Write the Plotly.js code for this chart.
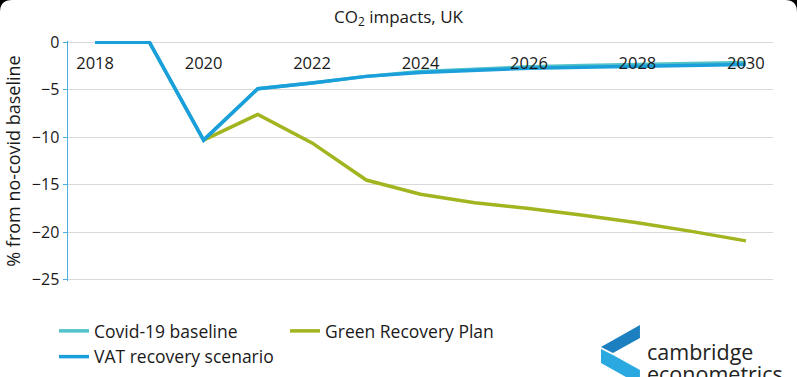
<!DOCTYPE html>
<html>
<head>
<meta charset="utf-8">
<script src="https://cdn.plot.ly/plotly-3.0.1.min.js"></script>
<style>html,body{margin:0;padding:0;background:#fff;}#chart{width:797px;height:377px;}</style>
</head>
<body>
<div id="chart"></div>
<script>
const years = [2018, 2019, 2020, 2021, 2022, 2023, 2024, 2025, 2026, 2027, 2028, 2029, 2030];
const covidBaseline = [0, 0, -10.3, -4.9, -4.3, -3.6, -3.1, -2.85, -2.6, -2.45, -2.35, -2.25, -2.15];
const greenRecovery = [null, null, -10.3, -7.6, -10.6, -14.5, -16.0, -16.9, -17.5, -18.2, -19.0, -19.9, -20.9];
const vatRecovery = [0, 0, -10.3, -4.9, -4.3, -3.6, -3.2, -2.95, -2.75, -2.65, -2.55, -2.45, -2.35];
const seriesNames = ["Covid-19 baseline", "Green Recovery Plan", "VAT recovery scenario"];
const xTicks = [2018, 2020, 2022, 2024, 2026, 2028, 2030];
const yTicks = [0, -5, -10, -15, -20, -25];

const FONT = "'Open Sans', sans-serif";
const W = 797, H = 377, L = 68, R = 24, T = 41, B = 96;
const pw = W - L - R, ph = H - T - B;
function px(x){ return (x - L) / pw; }
function py(y){ return (H - B - y) / ph; }
function path(pts){ return 'M' + pts.map(p => px(p[0]).toFixed(4) + ',' + py(p[1]).toFixed(4)).join(' L') + ' Z'; }

const traces = [
  {x: years, y: covidBaseline, name: seriesNames[0], mode: 'lines', line: {color: '#52C3C8', width: 3.5}, legend: 'legend'},
  {x: years, y: greenRecovery, name: seriesNames[1], mode: 'lines', line: {color: '#A2B41F', width: 3.5}, legend: 'legend2'},
  {x: years, y: vatRecovery, name: seriesNames[2], mode: 'lines', line: {color: '#1A9FDB', width: 3.5}, legend: 'legend'}
];

const shapes = [
  {type: 'path', xref: 'paper', yref: 'paper', layer: 'above', line: {width: 0}, fillcolor: '#1B7FC0',
   path: path([[640,325],[601,347],[613,353],[640,338]])},
  {type: 'path', xref: 'paper', yref: 'paper', layer: 'above', line: {width: 0}, fillcolor: '#2AA9E1',
   path: path([[601,349],[613,355],[640,370],[640,377],[626,377],[601,363]])},
  {type: 'path', xref: 'paper', yref: 'paper', layer: 'above', line: {width: 0}, fillcolor: '#000',
   path: 'M' + px(0) + ',' + py(0) + ' L' + px(12) + ',' + py(0) + ' Q' + px(0) + ',' + py(0) + ' ' + px(0) + ',' + py(12) + ' Z'},
  {type: 'path', xref: 'paper', yref: 'paper', layer: 'above', line: {width: 0}, fillcolor: '#000',
   path: 'M' + px(797) + ',' + py(0) + ' L' + px(785) + ',' + py(0) + ' Q' + px(797) + ',' + py(0) + ' ' + px(797) + ',' + py(12) + ' Z'}
];

const layout = {
  width: W, height: H,
  margin: {l: L, r: R, t: T, b: B, autoexpand: false},
  paper_bgcolor: '#fff', plot_bgcolor: '#fff',
  font: {family: FONT, color: '#1a1a1a', size: 15},
  title: {text: 'CO<sub>2</sub> impacts, UK', font: {family: FONT, size: 17, color: '#1a1a1a'}, x: 0.5, xanchor: 'center', y: 0.955, yanchor: 'middle', yref: 'container'},
  xaxis: {type: 'linear', range: [2017.5, 2030.5], tickvals: xTicks, ticktext: xTicks.map(String),
          anchor: 'free', position: 1, side: 'bottom', ticklabelstandoff: 10,
          showgrid: false, zeroline: false, showline: false,
          ticks: '', tickfont: {family: FONT, size: 16.5, color: '#1a1a1a'}, fixedrange: true},
  yaxis: {range: [-25.12, 0.12], tickvals: yTicks, showgrid: true, gridcolor: '#d9d9d9', gridwidth: 1,
          zeroline: false, showline: true, linecolor: '#4AAEE0', linewidth: 1.5, ticks: 'outside', ticklen: 4, tickcolor: '#4AAEE0',
          tickfont: {family: FONT, size: 16, color: '#1a1a1a'},
          title: {text: '% from no-covid baseline', font: {family: FONT, size: 18, color: '#1a1a1a'}, standoff: 6}},
  legend: {orientation: 'v', x: px(54), y: py(313), xanchor: 'left', yanchor: 'top', xref: 'paper', yref: 'paper',
           font: {family: FONT, size: 17.5, color: '#1a1a1a'}, itemwidth: 30, tracegroupgap: 0, bgcolor: 'rgba(0,0,0,0)'},
  legend2: {orientation: 'v', x: px(285), y: py(313), xanchor: 'left', yanchor: 'top', xref: 'paper', yref: 'paper',
           font: {family: FONT, size: 17.5, color: '#1a1a1a'}, itemwidth: 30, bgcolor: 'rgba(0,0,0,0)'},
  shapes: shapes,
  annotations: [
    {text: 'cambridge', xref: 'paper', yref: 'paper', x: px(645), y: py(351), xanchor: 'left', yanchor: 'middle', showarrow: false,
     font: {family: FONT, size: 21.5, color: '#222'}},
    {text: 'econometrics', xref: 'paper', yref: 'paper', x: px(645), y: py(373), xanchor: 'left', yanchor: 'middle', showarrow: false,
     font: {family: FONT, size: 21.5, color: '#222'}}
  ],
  showlegend: true
};

Plotly.newPlot('chart', traces, layout, {displayModeBar: false, staticPlot: true});
</script>
</body>
</html>
